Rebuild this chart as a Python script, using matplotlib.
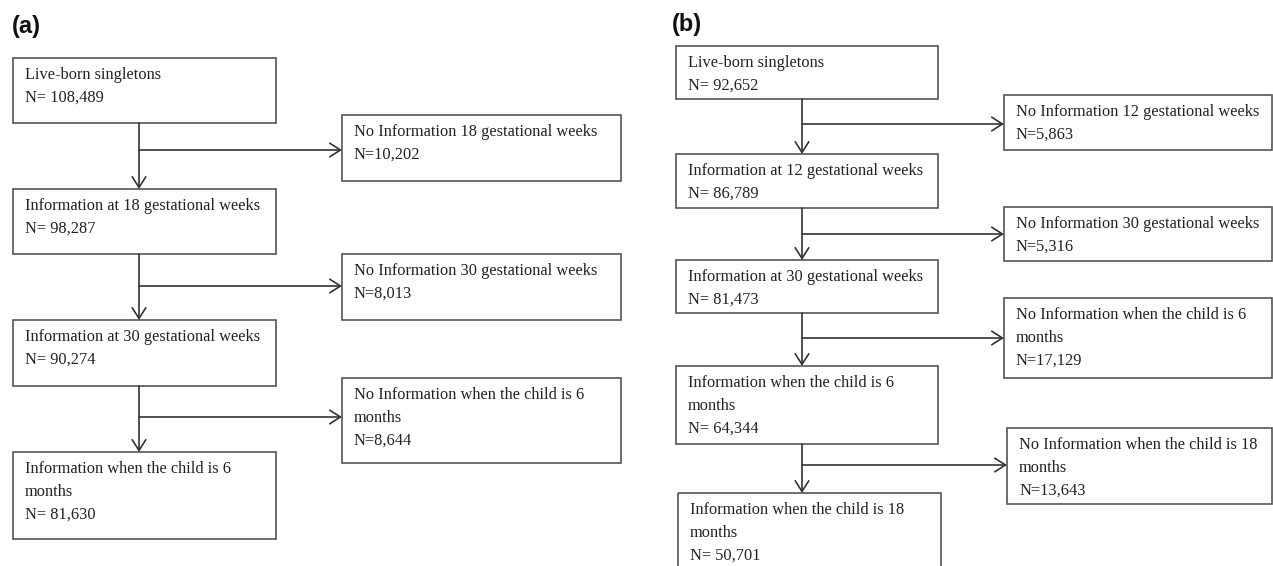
import matplotlib.pyplot as plt
from matplotlib.patches import Rectangle

# Flowchart content: panel (a)
A_MAIN_LABELS = [
    "Live-born singletons",
    "Information at 18 gestational weeks",
    "Information at 30 gestational weeks",
    "Information when the child is 6\nmonths",
]
A_MAIN_N = [108489, 98287, 90274, 81630]
A_LOST_LABELS = [
    "No Information 18 gestational weeks",
    "No Information 30 gestational weeks",
    "No Information when the child is 6\nmonths",
]
A_LOST_N = [10202, 8013, 8644]

# Flowchart content: panel (b)
B_MAIN_LABELS = [
    "Live-born singletons",
    "Information at 12 gestational weeks",
    "Information at 30 gestational weeks",
    "Information when the child is 6\nmonths",
    "Information when the child is 18\nmonths",
]
B_MAIN_N = [92652, 86789, 81473, 64344, 50701]
B_LOST_LABELS = [
    "No Information 12 gestational weeks",
    "No Information 30 gestational weeks",
    "No Information when the child is 6\nmonths",
    "No Information when the child is 18\nmonths",
]
B_LOST_N = [5863, 5316, 17129, 13643]

# Layout (pixel space of the figure, y downwards)
A_MAIN_BOXES = [(13, 58, 276, 123), (13, 189, 276, 254), (13, 320, 276, 386), (13, 452, 276, 539)]
A_LOST_BOXES = [(342, 115, 621, 181), (342, 254, 621, 320), (342, 378, 621, 463)]
A_STEM_X = 139
A_BRANCH_Y = [150, 286, 417]

B_MAIN_BOXES = [(676, 46, 938, 99), (676, 154, 938, 208), (676, 260, 938, 313),
                (676, 366, 938, 444), (678, 493, 941, 590)]
B_LOST_BOXES = [(1004, 95, 1272, 150), (1004, 207, 1272, 261), (1004, 298, 1272, 378),
                (1007, 428, 1272, 504)]
B_STEM_X = 802
B_BRANCH_Y = [124, 234, 338, 465]

FONT = "Liberation Serif"
TEXT_SIZE = 11.8
LINE_STEP = 23
EDGE = "#555555"
INK = "#222222"


def draw_box(ax, box, text):
    x0, y0, x1, y1 = box
    ax.add_patch(Rectangle((x0, y0), x1 - x0, y1 - y0, fill=False,
                           edgecolor=EDGE, linewidth=1.2, clip_on=False))
    for i, line in enumerate(text.split("\n")):
        ax.text(x0 + 12, y0 + 17 + i * LINE_STEP, line, family=FONT,
                fontsize=TEXT_SIZE, color=INK, va="center", ha="left")


def arrow(ax, start, end):
    ax.annotate("", xy=end, xytext=start,
                arrowprops=dict(arrowstyle="->,head_length=0.55,head_width=0.35",
                                color="#333333", lw=1.2, mutation_scale=14,
                                shrinkA=0, shrinkB=0))


def draw_panel(ax, main_labels, main_n, lost_labels, lost_n,
               main_boxes, lost_boxes, stem_x, branch_y):
    for label, n, box in zip(main_labels, main_n, main_boxes):
        draw_box(ax, box, f"{label}\nN= {n:,}")
    for label, n, box in zip(lost_labels, lost_n, lost_boxes):
        draw_box(ax, box, f"{label}\nN={n:,}")

    for i in range(len(main_boxes) - 1):
        top = main_boxes[i][3]
        bottom = main_boxes[i + 1][1]
        arrow(ax, (stem_x, top), (stem_x, bottom))
        arrow(ax, (stem_x, branch_y[i]), (lost_boxes[i][0], branch_y[i]))


fig = plt.figure(figsize=(12.73, 5.66), dpi=100)
ax = fig.add_axes([0, 0, 1, 1])
ax.set_xlim(0, 1273)
ax.set_ylim(566, 0)
ax.axis("off")

draw_panel(ax, A_MAIN_LABELS, A_MAIN_N, A_LOST_LABELS, A_LOST_N,
           A_MAIN_BOXES, A_LOST_BOXES, A_STEM_X, A_BRANCH_Y)
draw_panel(ax, B_MAIN_LABELS, B_MAIN_N, B_LOST_LABELS, B_LOST_N,
           B_MAIN_BOXES, B_LOST_BOXES, B_STEM_X, B_BRANCH_Y)

ax.text(12, 27, "(a)", family="Liberation Sans", fontweight="bold",
        fontsize=17, va="center", ha="left", color="#111111")
ax.text(672, 25, "(b)", family="Liberation Sans", fontweight="bold",
        fontsize=17, va="center", ha="left", color="#111111")

fig.savefig("out.png", dpi=100)
